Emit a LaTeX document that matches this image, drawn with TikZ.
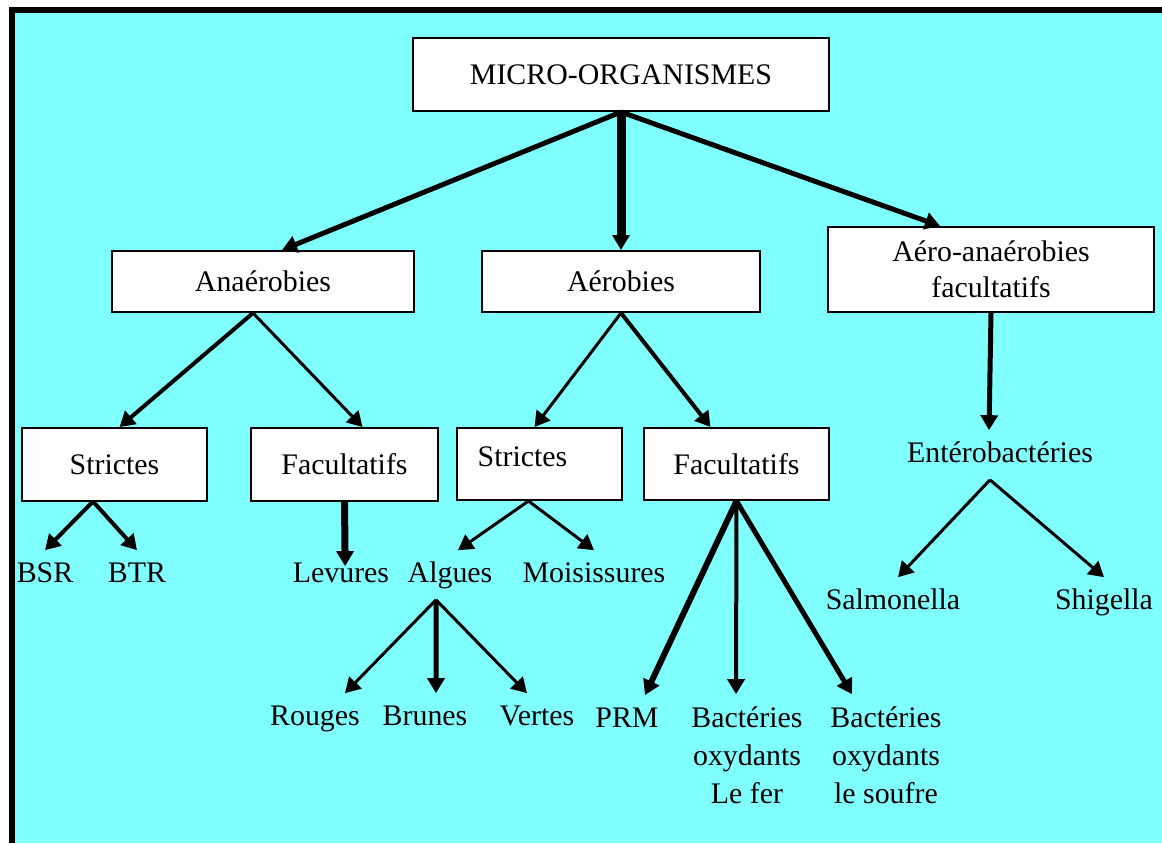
\documentclass[tikz,border=0pt]{standalone}
\usepackage{fontspec}
\setmainfont{Liberation Serif}
\usetikzlibrary{arrows.meta}
\definecolor{fond}{HTML}{80FFFF}

\begin{document}
\begin{tikzpicture}[x=0.02cm, y=-0.02cm,
  cadre/.style={draw, fill=white, line width=0.04cm, inner sep=0pt, align=center,
    font=\fontsize{17pt}{20.5pt}\selectfont},
  etiq/.style={inner xsep=0pt, inner ysep=0.24cm, text height=0.4cm, text depth=0.1cm,
    font=\fontsize{17pt}{21.6pt}\selectfont},
  bloc/.style={inner xsep=0pt, inner ysep=0.24cm, align=center,
    font=\fontsize{17pt}{21.6pt}\selectfont},
  fleche/.style={line width=#1, -{Triangle[length=0.3cm,width=0.34cm]}},
  fleche/.default=0.06cm]

% Fond et cadre
\useasboundingbox (0,0) rectangle (1162,843);
\fill[white] (0,0) rectangle (1162,843);
\fill[black] (9,7) rectangle (1162,843);
\fill[fond] (15,13) rectangle (1162,843);

% Boites
\node[cadre, minimum width=8.32cm, minimum height=1.46cm] (mo) at (621,74.5) {MICRO-ORGANISMES};
\node[cadre, minimum width=6.04cm, minimum height=1.22cm] (ana) at (263,281.5) {Anaérobies};
\node[cadre, minimum width=5.56cm, minimum height=1.22cm] (aer) at (621,281.5) {Aérobies};
\node[cadre, minimum width=6.52cm, minimum height=1.7cm] (aa) at (991,269.5) {Aéro-anaérobies\\facultatifs};
\node[cadre, minimum width=3.7cm, minimum height=1.46cm] (strL) at (114.5,464.5) {Strictes};
\node[cadre, minimum width=3.74cm, minimum height=1.46cm] (facL) at (344.5,464.5) {Facultatifs};
\node[cadre, minimum width=3.3cm, minimum height=1.44cm,
  label={[font=\fontsize{17pt}{20.5pt}\selectfont, shift={(-17,-7)}]center:Strictes}] (strM) at (539.5,464) {};
\node[cadre, minimum width=3.7cm, minimum height=1.44cm] (facM) at (736.5,464) {Facultatifs};

% Etiquettes
\node[etiq] (bsr) at (45,575) {BSR};
\node[etiq] (btr) at (137,575) {BTR};
\node[etiq] (lev) at (341,575) {Levures};
\node[etiq] (alg) at (450,575) {Algues};
\node[etiq] (moi) at (594,575) {Moisissures};
\node[etiq] (rou) at (315,718) {Rouges};
\node[etiq] (bru) at (425,718) {Brunes};
\node[etiq] (ver) at (537,718) {Vertes};
\node[etiq] (prm) at (627,720) {PRM};
\node[bloc] (bfer) at (747,755) {Bactéries\\oxydants\\Le fer};
\node[bloc] (bsou) at (886,755) {Bactéries\\oxydants\\le soufre};
\node[etiq] (ent) at (1000,455) {Entérobactéries};
\node[etiq] (sal) at (893,602) {Salmonella};
\node[etiq] (shi) at (1104,602) {Shigella};

% Fleches
\draw[fleche=0.1cm] (mo.south) -- ([xshift=0.38cm]ana.north);
\draw[fleche=0.18cm] (mo.south) -- (aer.north);
\draw[fleche=0.1cm] (mo.south) -- ([xshift=-1.02cm]aa.north);
\draw[fleche=0.1cm] (aa.south) -- ([xshift=-0.22cm]ent.north);

\draw[fleche=0.08cm] ([xshift=-0.2cm]ana.south) -- ([xshift=0.1cm]strL.north);
\draw[fleche=0.06cm] ([xshift=-0.2cm]ana.south) -- ([xshift=0.36cm]facL.north);
\draw[fleche=0.06cm] (aer.south) -- ([xshift=-0.1cm]strM.north);
\draw[fleche=0.08cm] (aer.south) -- ([xshift=-0.52cm]facM.north);

\draw[fleche=0.08cm] ([xshift=-0.44cm]strL.south) -- (bsr.north);
\draw[fleche=0.08cm] ([xshift=-0.42cm]strL.south) -- (btr.north);
\draw[fleche=0.14cm, shorten >=-0.32cm] (facL.south) -- ([xshift=0.08cm]lev.north);
\draw[fleche=0.06cm] ([xshift=-0.22cm]strM.south) -- ([xshift=0.16cm]alg.north);
\draw[fleche=0.06cm] ([xshift=-0.22cm]strM.south) -- (moi.north);

\draw[fleche=0.06cm] ([xshift=-0.28cm]alg.south) -- ([xshift=0.6cm]rou.north);
\draw[fleche=0.1cm] ([xshift=-0.28cm]alg.south) -- ([xshift=0.22cm]bru.north);
\draw[fleche=0.06cm] ([xshift=-0.28cm]alg.south) -- ([xshift=-0.2cm]ver.north);

\draw[fleche=0.12cm] (facM.south) -- ([xshift=0.36cm]prm.north);
\draw[fleche=0.08cm] (facM.south) -- ([xshift=-0.22cm]bfer.north);
\draw[fleche=0.1cm] (facM.south) -- ([xshift=-0.68cm]bsou.north);

\draw[fleche=0.06cm] ([xshift=-0.2cm]ent.south) -- ([xshift=0.1cm]sal.north);
\draw[fleche=0.06cm] ([xshift=-0.2cm]ent.south) -- (shi.north);

\end{tikzpicture}
\end{document}
